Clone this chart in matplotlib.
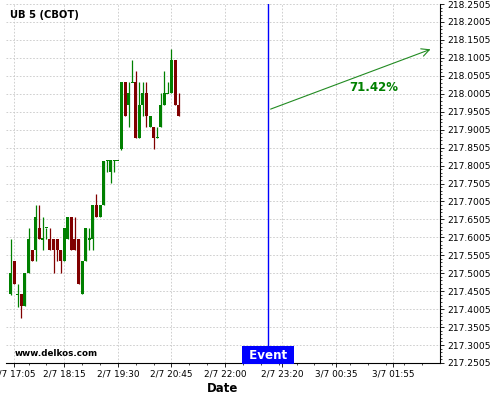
import numpy as np
import matplotlib
matplotlib.use('Agg')
import matplotlib.pyplot as plt

# 5-minute bars starting 2/7 17:00, time in minutes from 17:00
opens = [217.442, 217.535, 217.442, 217.442, 217.409, 217.501, 217.565, 217.565,
         217.627, 217.596, 217.627, 217.596, 217.596, 217.596, 217.565, 217.535,
         217.596, 217.657, 217.596, 217.596, 217.442, 217.535, 217.596, 217.596,
         217.691, 217.657, 217.691, 217.815, 217.783, 217.815, 217.815, 217.847,
         218.033, 217.970, 218.033, 218.033, 217.878, 217.970, 218.002, 217.909,
         217.909, 217.878, 217.909, 217.970, 218.002, 218.002, 218.094, 217.970]
highs = [217.596, 217.535, 217.471, 217.442, 217.501, 217.627, 217.565, 217.691,
         217.691, 217.657, 217.627, 217.627, 217.596, 217.596, 217.565, 217.627,
         217.657, 217.657, 217.657, 217.596, 217.535, 217.627, 217.627, 217.691,
         217.721, 217.691, 217.813, 217.815, 217.815, 217.815, 217.815, 218.033,
         218.033, 218.033, 218.094, 218.064, 218.033, 218.033, 218.033, 217.939,
         217.909, 217.909, 218.002, 218.064, 218.033, 218.125, 218.094, 218.002]
lows = [217.440, 217.471, 217.407, 217.375, 217.409, 217.501, 217.535, 217.535,
        217.596, 217.565, 217.596, 217.565, 217.501, 217.535, 217.501, 217.535,
        217.596, 217.565, 217.565, 217.471, 217.442, 217.535, 217.565, 217.565,
        217.657, 217.657, 217.691, 217.783, 217.752, 217.783, 217.815, 217.845,
        217.939, 217.909, 218.033, 217.878, 217.878, 217.939, 217.909, 217.909,
        217.847, 217.878, 217.909, 217.970, 218.002, 218.002, 217.970, 217.939]
closes = [217.501, 217.471, 217.442, 217.409, 217.501, 217.596, 217.535, 217.657,
          217.596, 217.596, 217.627, 217.565, 217.565, 217.565, 217.535, 217.627,
          217.657, 217.565, 217.565, 217.471, 217.535, 217.627, 217.596, 217.691,
          217.657, 217.691, 217.813, 217.815, 217.815, 217.815, 217.815, 218.033,
          217.939, 218.002, 218.033, 217.878, 217.970, 218.002, 217.939, 217.939,
          217.878, 217.878, 217.970, 218.002, 218.002, 218.094, 217.970, 217.939]
times = [5 * i for i in range(len(opens))]

tick_pos = [5, 75, 150, 225, 300, 380, 455, 535]
tick_labels = ['2/7 17:05', '2/7 18:15', '2/7 19:30', '2/7 20:45',
               '2/7 22:00', '2/7 23:20', '3/7 00:35', '3/7 01:55']
y_ticks = [217.2505 + 0.05 * i for i in range(21)]

event_time = 360
arrow_start = (360, 217.955)
arrow_end = (591, 218.127)
pct_label = '71.42%'
pct_pos = (508, 218.019)

green = '#008000'
red = '#800000'

fig = plt.figure(figsize=(5, 4), dpi=100)
ax = fig.add_axes([0.012, 0.0925, 0.868, 0.8975])

for t, o, h, l, c in zip(times, opens, highs, lows, closes):
    col = green if c >= o else red
    ax.vlines(t, l, h, color=col, lw=0.9, zorder=3)
    height = c - o
    if abs(height) < 0.003:
        ax.bar(t, 0.003, bottom=o - 0.0015, width=4.2, color=col, zorder=4)
    else:
        ax.bar(t, height, bottom=o, width=4.2, color=col, zorder=4)

ax.axvline(event_time, color='#0000ff', lw=1, zorder=5)
ax.annotate('', xy=arrow_end, xytext=arrow_start,
            arrowprops=dict(arrowstyle='->', color='#228b22', lw=0.8,
                            mutation_scale=14), zorder=6)
ax.text(pct_pos[0], pct_pos[1], pct_label, color=green, fontsize=8.5,
        fontweight='bold', ha='center', va='center')

ax.set_xlim(-6.5, 600.6)
ax.set_ylim(217.2505, 218.2505)

ax.set_xticks(tick_pos)
ax.set_xticklabels(tick_labels, fontsize=6.4)
ax.set_xticks(np.arange(25, 600, 25), minor=True)
ax.set_yticks(y_ticks)
ax.set_yticklabels(['%.4f' % v for v in y_ticks], fontsize=6.6)
ax.set_yticks(np.arange(217.2605, 218.25, 0.01), minor=True)
ax.yaxis.tick_right()
ax.tick_params(axis='both', which='major', length=3, width=0.6, pad=2)
ax.tick_params(axis='both', which='minor', length=1.5, width=0.5)

ax.grid(True, which='major', color='#c8c8c8', linestyle=(0, (2, 2)), lw=0.6)
ax.set_axisbelow(True)
for s in ['top', 'left']:
    ax.spines[s].set_visible(False)
ax.spines['right'].set_linewidth(0.8)
ax.spines['bottom'].set_linewidth(0.8)

ax.set_xlabel('Date', fontsize=8.5, fontweight='bold', labelpad=2)

ax.text(event_time, 217.2505 + 0.0035, ' Event ', color='white', fontsize=8.6,
        fontweight='bold', ha='center', va='bottom', zorder=7,
        bbox=dict(boxstyle='square,pad=0.22', fc='#0000ff', ec='none'))

fig.text(0.02, 0.9625, 'UB 5 (CBOT)', fontsize=7.2, fontweight='bold',
         ha='left', va='center')
fig.text(0.03, 0.115, 'www.delkos.com', fontsize=6.3, fontweight='bold',
         ha='left', va='center')

fig.savefig('out.png', dpi=100)
